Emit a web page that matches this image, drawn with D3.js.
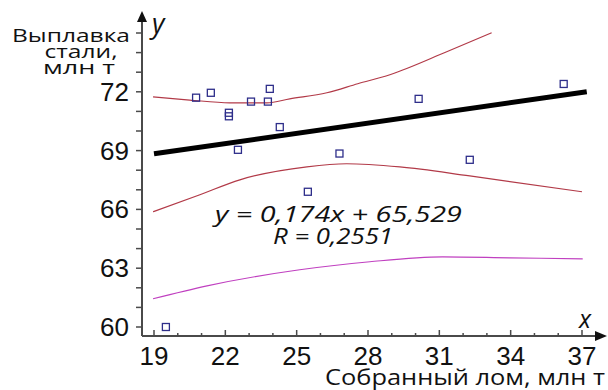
<!DOCTYPE html>
<html>
<head>
<meta charset="utf-8">
<script src="https://cdn.jsdelivr.net/npm/d3@7"></script>
<style>
  body { margin: 0; background: #fff; }
  svg { display: block; }
  .tick-label { font-family: "Liberation Sans", Arial, sans-serif; font-size: 26px; fill: #111; }
  .title { font-family: "Open Sans", sans-serif; fill: #111; }
</style>
</head>
<body>
<div id="chart-area"></div>
<script>
// scrap collected vs steel output
var scrapX = [19.5, 20.77, 21.39, 22.15, 22.15, 22.53, 23.08, 23.79, 23.87, 24.29, 25.47, 26.8, 30.13, 32.28, 36.23];
var steelY = [60.0, 71.7, 71.95, 70.93, 70.75, 69.04, 71.5, 71.5, 72.15, 70.2, 66.9, 68.85, 71.64, 68.53, 72.4];

// regression y = 0.174x + 65.529
var slope = 0.174, intercept = 65.529;

// upper red band
var upperX = [18.96, 20.5, 22.19, 23.75, 24.71, 26.27, 27.57, 28.92, 31.31, 33.2];
var upperY = [71.74, 71.58, 71.44, 71.44, 71.64, 71.95, 72.41, 72.87, 74.04, 75.01];
// lower red band
var lowerX = [18.96, 20.93, 22.61, 25.43, 27.1, 29.34, 32.28, 37];
var lowerY = [65.88, 66.75, 67.51, 68.17, 68.33, 68.17, 67.71, 66.9];
// magenta curve
var magX = [18.96, 21.23, 25.13, 28.08, 31.14, 33.96, 37.03];
var magY = [61.44, 62.1, 62.92, 63.33, 63.58, 63.53, 63.48];

var xTicks = [19, 22, 25, 28, 31, 34, 37];
var yTicks = [60, 63, 66, 69, 72];

var width = 608, height = 390;
var svg = d3.select('#chart-area').append('svg')
    .attr('width', width)
    .attr('height', height);

var x = d3.scaleLinear().domain([19, 37]).range([154, 582]);
var y = d3.scaleLinear().domain([60, 75]).range([327, 33]);

var axisX0 = 142, axisY0 = 336;
var axisColor = '#4a4a4a';

// x axis line + arrow
svg.append('line')
    .attr('x1', axisX0).attr('x2', 598)
    .attr('y1', axisY0).attr('y2', axisY0)
    .attr('stroke', axisColor).attr('stroke-width', 2);
svg.append('path')
    .attr('d', `M607,${axisY0} L595,${axisY0 - 5} L595,${axisY0 + 5} Z`)
    .attr('fill', '#111');

// y axis line + arrow
svg.append('line')
    .attr('x1', axisX0).attr('x2', axisX0)
    .attr('y1', axisY0).attr('y2', 20)
    .attr('stroke', axisColor).attr('stroke-width', 2);
svg.append('path')
    .attr('d', `M${axisX0},11 L${axisX0 - 5},22 L${axisX0 + 5},22 Z`)
    .attr('fill', '#111');

// x ticks (every 1, pointing up)
d3.range(19, 38).forEach(v => {
    var major = xTicks.indexOf(v) >= 0;
    svg.append('line')
        .attr('x1', x(v)).attr('x2', x(v))
        .attr('y1', axisY0).attr('y2', axisY0 - (major ? 6 : 3))
        .attr('stroke', axisColor).attr('stroke-width', 1.5);
});
svg.selectAll('.xlab').data(xTicks).enter().append('text')
    .attr('class', 'tick-label')
    .attr('x', d => x(d))
    .attr('y', 365)
    .attr('text-anchor', 'middle')
    .text(d => d);

// y ticks (every 1, pointing left)
d3.range(60, 76).forEach(v => {
    svg.append('line')
        .attr('x1', axisX0).attr('x2', axisX0 - 6)
        .attr('y1', y(v)).attr('y2', y(v))
        .attr('stroke', axisColor).attr('stroke-width', 1.5);
});
svg.selectAll('.ylab').data(yTicks).enter().append('text')
    .attr('class', 'tick-label')
    .attr('x', 129)
    .attr('y', d => y(d) + 9)
    .attr('text-anchor', 'end')
    .text(d => d);

// curves
var line = d3.line().x(d => x(d[0])).y(d => y(d[1])).curve(d3.curveMonotoneX);

svg.append('path')
    .attr('d', line(d3.zip(upperX, upperY)))
    .attr('fill', 'none').attr('stroke', '#b23a48').attr('stroke-width', 1.2);
svg.append('path')
    .attr('d', line(d3.zip(lowerX, lowerY)))
    .attr('fill', 'none').attr('stroke', '#b23a48').attr('stroke-width', 1.2);
svg.append('path')
    .attr('d', line(d3.zip(magX, magY)))
    .attr('fill', 'none').attr('stroke', '#c040c0').attr('stroke-width', 1.2);

// regression line
svg.append('line')
    .attr('x1', x(19)).attr('y1', y(slope * 19 + intercept))
    .attr('x2', x(37.2)).attr('y2', y(slope * 37.2 + intercept))
    .attr('stroke', '#000').attr('stroke-width', 5);

// points
svg.selectAll('rect.pt').data(d3.zip(scrapX, steelY)).enter().append('rect')
    .attr('class', 'pt')
    .attr('x', d => x(d[0]) - 3.5)
    .attr('y', d => y(d[1]) - 3.5)
    .attr('width', 7).attr('height', 7)
    .attr('fill', 'none')
    .attr('stroke', '#2e2e8a').attr('stroke-width', 1.3);

// labels
var yLines = [
    { t: 'Выплавка', cx: 71, by: 42, w: 118 },
    { t: 'стали,', cx: 81, by: 58, w: 73 },
    { t: 'млн т', cx: 79, by: 74, w: 72 }
];
yLines.forEach(l => {
    svg.append('text').attr('class', 'title')
        .attr('x', l.cx - l.w / 2).attr('y', l.by)
        .attr('font-size', '19px')
        .attr('textLength', l.w).attr('lengthAdjust', 'spacingAndGlyphs')
        .text(l.t);
});

svg.append('text').attr('class', 'title')
    .attr('x', 325).attr('y', 385)
    .attr('font-size', '22px')
    .attr('textLength', 280).attr('lengthAdjust', 'spacingAndGlyphs')
    .text('Собранный лом, млн т');

svg.append('text').attr('class', 'title')
    .attr('x', 152).attr('y', 33)
    .attr('font-style', 'italic').attr('font-size', '27px')
    .text('y');
svg.append('text').attr('class', 'title')
    .attr('x', 579).attr('y', 328)
    .attr('font-style', 'italic').attr('font-size', '25px')
    .text('x');

svg.append('text').attr('class', 'title')
    .attr('x', 215).attr('y', 222)
    .attr('font-style', 'italic').attr('font-size', '22px')
    .attr('textLength', 247).attr('lengthAdjust', 'spacingAndGlyphs')
    .text('y = 0,174x + 65,529');
svg.append('text').attr('class', 'title')
    .attr('x', 273).attr('y', 244)
    .attr('font-style', 'italic').attr('font-size', '22px')
    .attr('textLength', 120).attr('lengthAdjust', 'spacingAndGlyphs')
    .text('R = 0,2551');
</script>
</body>
</html>
